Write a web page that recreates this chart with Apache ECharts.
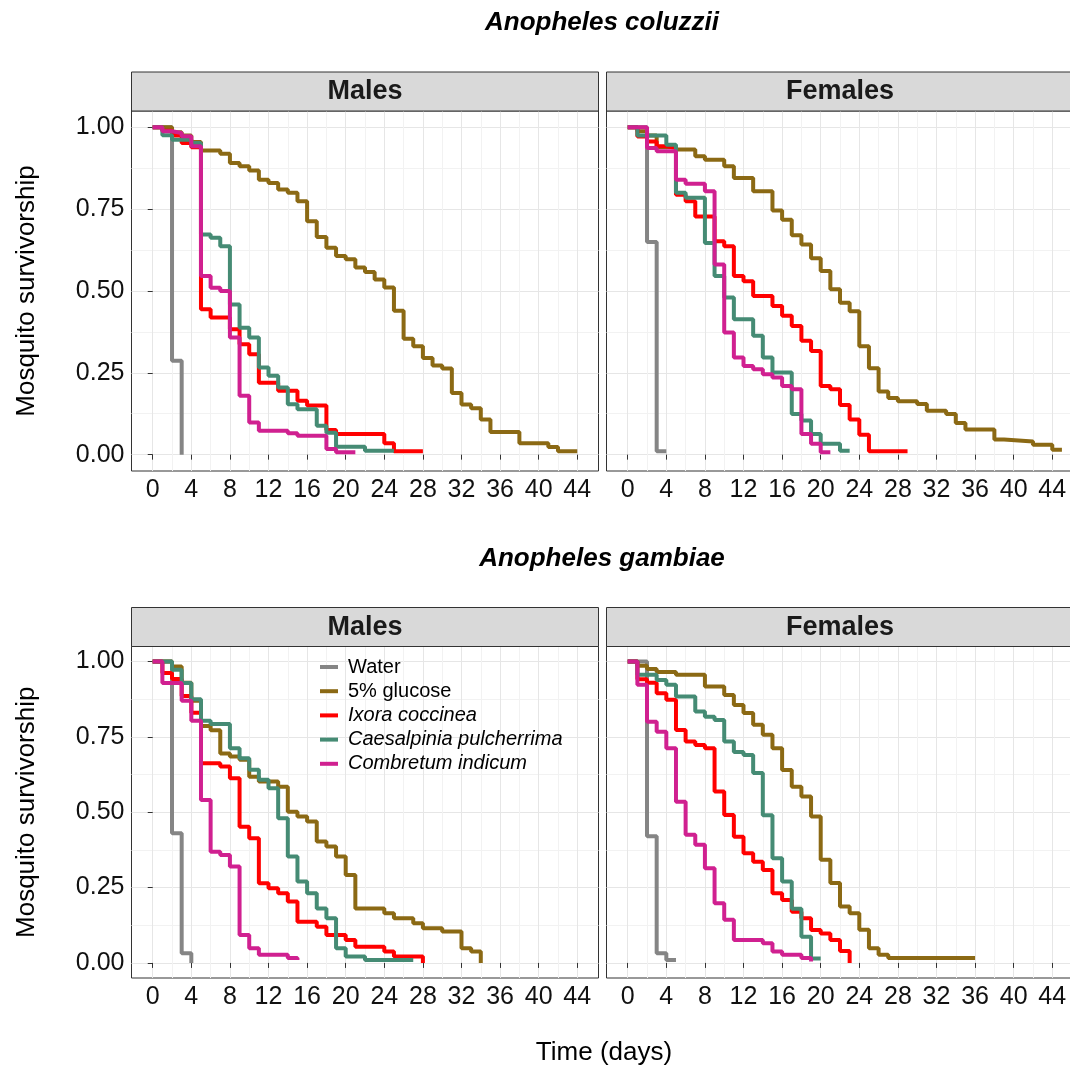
<!DOCTYPE html>
<html>
<head>
<meta charset="utf-8">
<script src="https://cdn.jsdelivr.net/npm/echarts@6.0.0/dist/echarts.min.js"></script>
<style>
  html, body { margin: 0; padding: 0; background: #fff; }
  #main { width: 1070px; height: 1069px; }
</style>
</head>
<body>
<div id="main"></div>
<script>
// treatments, legend order (last one is drawn on top)
var treatments = ['Water', '5% glucose', 'Ixora coccinea', 'Caesalpinia pulcherrima', 'Combretum indicum']
var italicNames = ['Ixora coccinea', 'Caesalpinia pulcherrima', 'Combretum indicum']
var sexNames = ['Males', 'Females']
var speciesNames = ['Anopheles coluzzii', 'Anopheles gambiae']
var xTicks = [0, 4, 8, 12, 16, 20, 24, 28, 32, 36, 40, 44]
var xGrid = [0, 2, 4, 6, 8, 10, 12, 14, 16, 18, 20, 22, 24, 26, 28, 30, 32, 34, 36, 38, 40, 42, 44]
var yTicks = [0, 0.25, 0.5, 0.75, 1]
var yGrid = [0, 0.125, 0.25, 0.375, 0.5, 0.625, 0.75, 0.875, 1]

// survival curves, [day, proportion alive]
// An. coluzzii - males
var colMaleWater = [[0, 1], [2, 0.287], [3, 0]]
var colMaleGlucose = [[0, 1], [2, 0.985], [3, 0.975], [4, 0.955], [5, 0.929], [7, 0.919], [8, 0.891], [9, 0.881], [10, 0.868], [11, 0.84], [12, 0.83], [13, 0.81], [14, 0.8], [15, 0.774], [16, 0.713], [17, 0.665], [18, 0.632], [19, 0.607], [20, 0.597], [21, 0.572], [22, 0.558], [23, 0.535], [24, 0.511], [25, 0.44], [26, 0.354], [27, 0.331], [28, 0.295], [29, 0.272], [30, 0.263], [31, 0.188], [32, 0.153], [33, 0.142], [34, 0.107], [35, 0.069], [38, 0.035], [41, 0.023], [42, 0.01], [44, 0.01]]
var colMaleIxora = [[0, 1], [1, 0.99], [2, 0.975], [3, 0.952], [4, 0.939], [5, 0.444], [6, 0.419], [8, 0.383], [9, 0.337], [10, 0.307], [11, 0.22], [13, 0.195], [15, 0.165], [16, 0.15], [18, 0.075], [19, 0.063], [24, 0.035], [25, 0.01], [28, 0.01]]
var colMaleCaesal = [[0, 1], [1, 0.976], [2, 0.962], [4, 0.952], [5, 0.673], [6, 0.663], [7, 0.637], [8, 0.459], [9, 0.388], [10, 0.358], [11, 0.266], [12, 0.241], [13, 0.205], [14, 0.154], [15, 0.139], [17, 0.088], [18, 0.067], [19, 0.024], [22, 0.012], [25, 0.012]]
var colMaleCombret = [[0, 1], [1, 0.988], [2, 0.983], [3, 0.973], [4, 0.942], [5, 0.546], [6, 0.51], [7, 0.5], [8, 0.358], [9, 0.18], [10, 0.098], [11, 0.073], [14, 0.065], [15, 0.058], [18, 0.017], [19, 0.007], [21, 0.007]]
// An. coluzzii - females
var colFemWater = [[0, 1], [2, 0.65], [3, 0.01], [4, 0.01]]
var colFemGlucose = [[0, 1], [1, 0.988], [2, 0.975], [3, 0.94], [5, 0.932], [7, 0.912], [8, 0.901], [10, 0.881], [11, 0.845], [13, 0.805], [15, 0.746], [16, 0.718], [17, 0.67], [18, 0.642], [19, 0.6], [20, 0.561], [21, 0.505], [22, 0.464], [23, 0.438], [24, 0.331], [25, 0.264], [26, 0.193], [27, 0.173], [28, 0.163], [30, 0.155], [31, 0.134], [33, 0.124], [34, 0.097], [35, 0.077], [38, 0.046], [39, 0.04], [42, 0.03], [44, 0.015], [45, 0.015]]
var colFemIxora = [[0, 1], [1, 0.972], [2, 0.957], [3, 0.942], [4, 0.937], [5, 0.794], [6, 0.774], [7, 0.728], [9, 0.652], [10, 0.637], [11, 0.546], [12, 0.53], [13, 0.485], [15, 0.454], [16, 0.424], [17, 0.393], [18, 0.348], [19, 0.317], [20, 0.21], [21, 0.2], [22, 0.152], [23, 0.107], [24, 0.061], [25, 0.01], [29, 0.01]]
var colFemCaesal = [[0, 1], [1, 0.975], [4, 0.947], [5, 0.8], [6, 0.785], [8, 0.647], [9, 0.546], [10, 0.48], [11, 0.414], [13, 0.363], [14, 0.297], [15, 0.251], [17, 0.124], [18, 0.104], [19, 0.063], [20, 0.033], [22, 0.012], [23, 0.012]]
var colFemCombret = [[0, 1], [2, 0.937], [3, 0.927], [5, 0.84], [6, 0.828], [8, 0.805], [9, 0.581], [10, 0.373], [11, 0.297], [12, 0.271], [13, 0.261], [14, 0.246], [15, 0.236], [16, 0.21], [17, 0.2], [18, 0.063], [19, 0.033], [20, 0.007], [21, 0.007]]
// An. gambiae - males
var gamMaleWater = [[0, 1], [2, 0.43], [3, 0.032], [4, 0]]
var gamMaleGlucose = [[0, 1], [2, 0.984], [3, 0.93], [4, 0.87], [5, 0.786], [6, 0.772], [7, 0.695], [8, 0.685], [9, 0.674], [10, 0.618], [11, 0.602], [13, 0.585], [14, 0.502], [15, 0.486], [16, 0.469], [17, 0.403], [18, 0.386], [19, 0.353], [20, 0.292], [21, 0.181], [24, 0.165], [25, 0.148], [27, 0.132], [28, 0.115], [30, 0.104], [32, 0.049], [33, 0.038], [34, 0]]
var gamMaleIxora = [[0, 1], [1, 0.962], [2, 0.942], [3, 0.886], [4, 0.83], [5, 0.663], [7, 0.652], [8, 0.613], [9, 0.452], [10, 0.414], [11, 0.264], [12, 0.248], [13, 0.231], [14, 0.204], [15, 0.137], [17, 0.12], [18, 0.093], [20, 0.076], [21, 0.054], [24, 0.038], [25, 0.021], [28, 0]]
var gamMaleCaesal = [[0, 1], [2, 0.973], [3, 0.929], [4, 0.875], [5, 0.804], [6, 0.793], [8, 0.712], [9, 0.679], [10, 0.641], [11, 0.608], [12, 0.58], [13, 0.48], [14, 0.353], [15, 0.27], [16, 0.231], [17, 0.181], [18, 0.148], [19, 0.049], [20, 0.021], [22, 0.01], [27, 0.01]]
var gamMaleCombret = [[0, 1], [1, 0.929], [3, 0.87], [4, 0.804], [5, 0.541], [6, 0.369], [7, 0.358], [8, 0.32], [9, 0.093], [10, 0.049], [11, 0.027], [14, 0.016], [15, 0.01]]
// An. gambiae - females
var gamFemWater = [[0, 1], [2, 0.42], [3, 0.032], [4, 0.01], [5, 0.01]]
var gamFemGlucose = [[0, 1], [1, 0.986], [2, 0.975], [3, 0.965], [5, 0.956], [8, 0.917], [10, 0.889], [11, 0.856], [12, 0.829], [13, 0.79], [14, 0.757], [15, 0.712], [16, 0.64], [17, 0.585], [18, 0.552], [19, 0.486], [20, 0.342], [21, 0.265], [22, 0.187], [23, 0.165], [24, 0.11], [25, 0.049], [26, 0.027], [27, 0.016], [36, 0.016]]
var gamFemIxora = [[0, 1], [1, 0.941], [2, 0.93], [3, 0.895], [4, 0.873], [5, 0.773], [6, 0.735], [7, 0.723], [8, 0.712], [9, 0.569], [10, 0.491], [11, 0.419], [12, 0.364], [13, 0.336], [14, 0.308], [15, 0.231], [16, 0.209], [17, 0.17], [18, 0.148], [19, 0.109], [20, 0.098], [21, 0.076], [22, 0.04], [23, 0]]
var gamFemCaesal = [[0, 1], [1, 0.956], [3, 0.939], [4, 0.923], [5, 0.884], [7, 0.834], [8, 0.817], [9, 0.806], [10, 0.735], [11, 0.7], [12, 0.69], [13, 0.63], [14, 0.49], [15, 0.347], [16, 0.27], [17, 0.18], [18, 0.087], [19, 0.015], [20, 0.015]]
var gamFemCombret = [[0, 1], [1, 0.923], [2, 0.8], [3, 0.767], [4, 0.712], [5, 0.535], [6, 0.425], [7, 0.392], [8, 0.314], [9, 0.198], [10, 0.143], [11, 0.076], [14, 0.065], [15, 0.038], [16, 0.027], [18, 0.016], [19, 0.005]]

var panels = [
  [colMaleWater, colMaleGlucose, colMaleIxora, colMaleCaesal, colMaleCombret],
  [colFemWater, colFemGlucose, colFemIxora, colFemCaesal, colFemCombret],
  [gamMaleWater, gamMaleGlucose, gamMaleIxora, gamMaleCaesal, gamMaleCombret],
  [gamFemWater, gamFemGlucose, gamFemIxora, gamFemCaesal, gamFemCombret]
]

var colors = ['#858585', '#8B6914', '#FF0000', '#458B74', '#D02090']
var font = '"Liberation Sans", Arial, sans-serif'
var colLeft = [131.5, 606.5]
var rowTop = [111, 646.5]
var rowHeight = [360, 331.5]
var panelWidth = 467

var chart = echarts.init(document.getElementById('main'), null, { renderer: 'canvas' })

var grids = [], xAxes = [], yAxes = [], series = [], graphics = []
for (var p = 0; p < 4; p++) {
  var row = Math.floor(p / 2), col = p % 2
  grids.push({
    left: colLeft[col], top: rowTop[row], width: panelWidth, height: rowHeight[row],
    show: true, backgroundColor: '#fff', borderColor: '#333', borderWidth: 1,
    containLabel: false, outerBoundsMode: 'none'
  })
  // gridlines (major + minor)
  xAxes.push({
    gridIndex: p, type: 'value', min: -2.2, max: 46.2,
    axisLine: { show: false },
    axisTick: { show: false, customValues: xGrid },
    axisLabel: { show: false },
    splitLine: { show: true, lineStyle: { color: ['#e6e6e6', '#f2f2f2'], width: 1 } }
  })
  // ticks + labels
  xAxes.push({
    gridIndex: p, type: 'value', min: -2.2, max: 46.2, position: 'bottom',
    axisLine: { show: false },
    axisTick: { show: true, customValues: xTicks, length: 5, lineStyle: { color: '#333', width: 1 } },
    axisLabel: { show: true, customValues: xTicks, margin: 7, fontSize: 25, color: '#111', fontFamily: font },
    splitLine: { show: false }
  })
  yAxes.push({
    gridIndex: p, type: 'value', min: -0.05, max: 1.05,
    axisLine: { show: false },
    axisTick: { show: false, customValues: yGrid },
    axisLabel: { show: false },
    splitLine: { show: true, lineStyle: { color: ['#e6e6e6', '#f2f2f2'], width: 1 } }
  })
  yAxes.push({
    gridIndex: p, type: 'value', min: -0.05, max: 1.05, position: 'left',
    axisLine: { show: false },
    axisTick: { show: col === 0, customValues: yTicks, length: 5, lineStyle: { color: '#333', width: 1 } },
    axisLabel: {
      show: col === 0, customValues: yTicks, margin: 7, fontSize: 25, color: '#111', fontFamily: font,
      formatter: function (v) { return v.toFixed(2) }
    },
    splitLine: { show: false },
    name: col === 0 ? 'Mosquito survivorship' : '',
    nameLocation: 'middle', nameRotate: 90, nameGap: 92,
    nameTextStyle: { fontSize: 26, color: '#000', fontFamily: font }
  })
  for (var t = 0; t < treatments.length; t++) {
    series.push({
      name: treatments[t], type: 'line', step: 'end',
      xAxisIndex: 2 * p, yAxisIndex: 2 * p,
      data: panels[p][t],
      symbol: 'none', showSymbol: false, silent: true, z: 2 + t,
      lineStyle: { width: 4, color: colors[t] },
      itemStyle: { color: colors[t] }
    })
  }
  // facet strip
  var stripTop = rowTop[row] - 39
  graphics.push({
    type: 'rect', shape: { x: colLeft[col], y: stripTop, width: panelWidth, height: 39 },
    style: { fill: '#D9D9D9', stroke: '#333', lineWidth: 1 }, z: 10
  })
  graphics.push({
    type: 'text', x: colLeft[col] + panelWidth / 2, y: stripTop + 20, z: 11,
    style: { text: sexNames[col], font: 'bold 27px ' + font, fill: '#1a1a1a', align: 'center', verticalAlign: 'middle' }
  })
}

graphics.push({
  type: 'text', x: 602, y: 23,
  style: { text: speciesNames[0], font: 'italic bold 26px ' + font, fill: '#000', align: 'center', verticalAlign: 'middle' }
})
graphics.push({
  type: 'text', x: 602, y: 559,
  style: { text: speciesNames[1], font: 'italic bold 26px ' + font, fill: '#000', align: 'center', verticalAlign: 'middle' }
})
graphics.push({
  type: 'text', x: 604, y: 1053,
  style: { text: 'Time (days)', font: '26px ' + font, fill: '#000', align: 'center', verticalAlign: 'middle' }
})

var option = {
  animation: false,
  backgroundColor: '#fff',
  grid: grids,
  xAxis: xAxes,
  yAxis: yAxes,
  legend: {
    show: true, orient: 'vertical', left: 320, top: 657,
    data: treatments, icon: 'rect', itemWidth: 18, itemHeight: 4, itemGap: 4.2,
    padding: 0, selectedMode: false,
    formatter: function (name) {
      return italicNames.indexOf(name) >= 0 ? '{it|' + name + '}' : name
    },
    textStyle: {
      fontSize: 20, lineHeight: 20, color: '#000', fontFamily: font, padding: [0, 0, 0, 5],
      rich: { it: { fontStyle: 'italic', fontSize: 20, lineHeight: 20, color: '#000', fontFamily: font } }
    }
  },
  graphic: graphics,
  series: series
}
chart.setOption(option)
</script>
</body>
</html>
